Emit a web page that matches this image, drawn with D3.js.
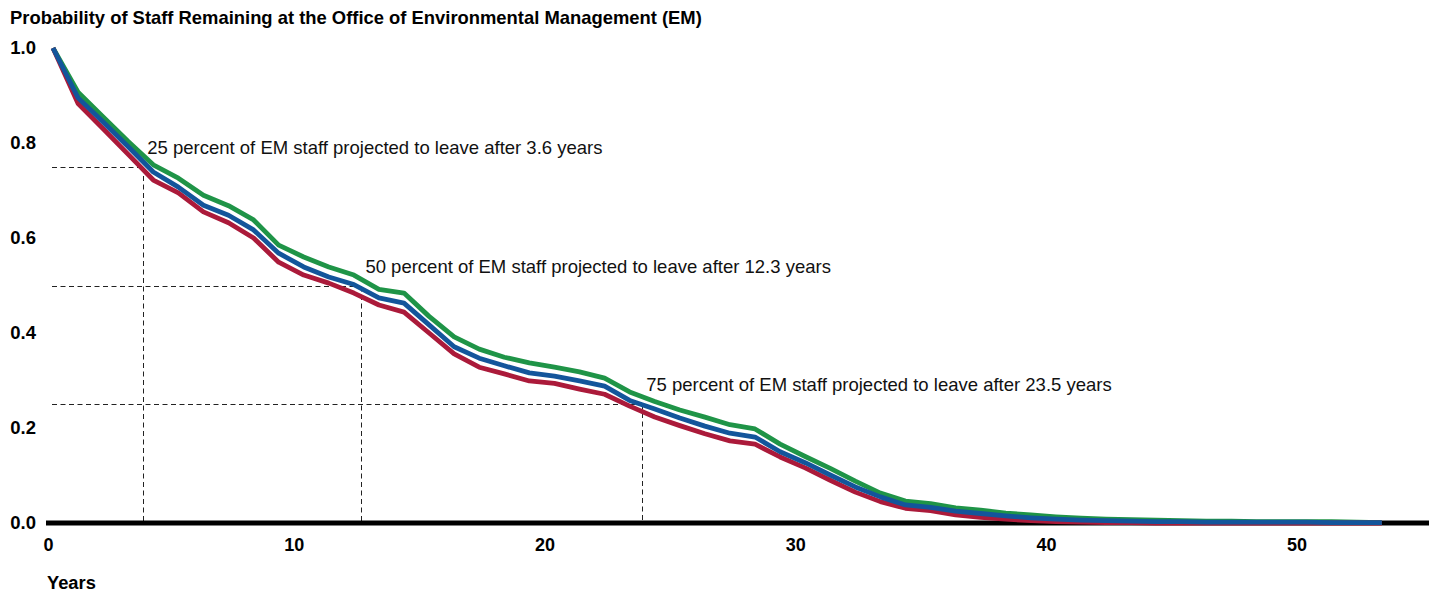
<!DOCTYPE html>
<html>
<head>
<meta charset="utf-8">
<script src="https://cdn.jsdelivr.net/npm/d3@7"></script>
<style>
  body { margin: 0; background: #fff; }
  svg { display: block; font-family: "Liberation Sans", Arial, sans-serif; }
</style>
</head>
<body>
<div id="root"></div>
<script>
// probability of staff remaining, one value per year (0..53)
let green = [1.0, 0.907, 0.855, 0.803, 0.754, 0.726, 0.69, 0.668, 0.638, 0.585,
  0.56, 0.539, 0.522, 0.492, 0.484, 0.435, 0.392, 0.366, 0.349, 0.337,
  0.328, 0.318, 0.305, 0.276, 0.256, 0.238, 0.223, 0.207, 0.198, 0.166,
  0.14, 0.115, 0.088, 0.063, 0.046, 0.041, 0.032, 0.027, 0.021, 0.017,
  0.013, 0.01, 0.008, 0.007, 0.006, 0.005, 0.004, 0.004, 0.003, 0.003,
  0.003, 0.003, 0.002, 0.001]
let blue = [1.0, 0.895, 0.844, 0.792, 0.739, 0.707, 0.669, 0.648, 0.617, 0.568,
  0.539, 0.518, 0.502, 0.474, 0.463, 0.417, 0.371, 0.347, 0.331, 0.316,
  0.309, 0.299, 0.288, 0.258, 0.24, 0.221, 0.204, 0.189, 0.181, 0.15,
  0.127, 0.101, 0.076, 0.055, 0.038, 0.033, 0.025, 0.02, 0.015, 0.011,
  0.008, 0.006, 0.005, 0.004, 0.003, 0.003, 0.002, 0.002, 0.002, 0.002,
  0.002, 0.001, 0.001, 0.001]
let red = [1.0, 0.883, 0.83, 0.776, 0.722, 0.695, 0.655, 0.632, 0.6, 0.549,
  0.522, 0.505, 0.484, 0.459, 0.444, 0.4, 0.356, 0.328, 0.314, 0.299,
  0.294, 0.282, 0.271, 0.246, 0.223, 0.205, 0.188, 0.173, 0.166, 0.139,
  0.116, 0.09, 0.065, 0.045, 0.031, 0.026, 0.017, 0.012, 0.008, 0.005,
  0.003, 0.002, 0.001, 0.001, 0, 0, 0, 0, 0, 0,
  0, 0, 0, 0]

let xTicks = [0, 10, 20, 30, 40, 50]
let yTicks = [0, 0.2, 0.4, 0.6, 0.8, 1.0]

// quartile markers: share remaining, years, label
let markProb = [0.75, 0.5, 0.25]
let markYears = [3.6, 12.3, 23.5]
let markText = [
  '25 percent of EM staff projected to leave after 3.6 years',
  '50 percent of EM staff projected to leave after 12.3 years',
  '75 percent of EM staff projected to leave after 23.5 years'
]

let W = 1440, H = 592
let svg = d3.select('#root').append('svg').attr('width', W).attr('height', H)

let x = d3.scaleLinear().domain([0, 55]).range([53, 1432])
let y = d3.scaleLinear().domain([0, 1]).range([523, 48])
let snap = v => Math.round(v) + 0.5

svg.append('text')
   .attr('x', 10).attr('y', 24)
   .attr('font-size', 18.4).attr('font-weight', 'bold')
   .text('Probability of Staff Remaining at the Office of Environmental Management (EM)')

// dashed guides
let guides = svg.append('g').attr('stroke', '#222').attr('stroke-width', 1)
   .attr('stroke-dasharray', '5,3.5').attr('fill', 'none')
markProb.forEach((p, i) => {
  let gx = snap(x(markYears[i])), gy = snap(y(p))
  guides.append('line')
     .attr('x1', 52).attr('x2', gx)
     .attr('y1', gy).attr('y2', gy)
  guides.append('line')
     .attr('x1', gx).attr('x2', gx)
     .attr('y1', gy).attr('y2', y(0))
  svg.append('text')
     .attr('x', x(markYears[i]) + 4).attr('y', y(p) - 13)
     .attr('font-size', 18.5).attr('fill', '#111')
     .text(markText[i])
})

// baseline
svg.append('line')
   .attr('x1', 46).attr('x2', 1429)
   .attr('y1', y(0)).attr('y2', y(0))
   .attr('stroke', '#000').attr('stroke-width', 5)

let line = d3.line().x((d, i) => x(i)).y(d => y(d))
let series = [
  {vals: green, color: '#1f9447'},
  {vals: red, color: '#ab1a3a'},
  {vals: blue, color: '#13559b'}
]
series.forEach(s => {
  svg.append('path')
     .datum(s.vals)
     .attr('d', line)
     .attr('fill', 'none')
     .attr('stroke', s.color)
     .attr('stroke-width', 4.8)
     .attr('stroke-linejoin', 'round')
})

// axes
let xAxis = svg.append('g')
   .attr('transform', `translate(0, ${y(0)})`)
   .call(d3.axisBottom(x).tickValues(xTicks).tickSize(0).tickPadding(15))
xAxis.select('.domain').remove()
xAxis.selectAll('text')
   .attr('text-anchor', 'end')
   .attr('font-size', 18).attr('font-weight', 'bold')
   .attr('font-family', '"Liberation Sans", Arial, sans-serif')
   .attr('fill', '#000')

let yAxis = svg.append('g')
   .attr('transform', 'translate(36, 0)')
   .call(d3.axisLeft(y).tickValues(yTicks).tickFormat(d3.format('.1f')).tickSize(0).tickPadding(0))
yAxis.select('.domain').remove()
yAxis.selectAll('text')
   .attr('font-size', 18.5).attr('font-weight', 'bold')
   .attr('font-family', '"Liberation Sans", Arial, sans-serif')
   .attr('fill', '#000')

svg.append('text')
   .attr('x', 47).attr('y', 589)
   .attr('font-size', 18.3).attr('font-weight', 'bold')
   .text('Years')
</script>
</body>
</html>
